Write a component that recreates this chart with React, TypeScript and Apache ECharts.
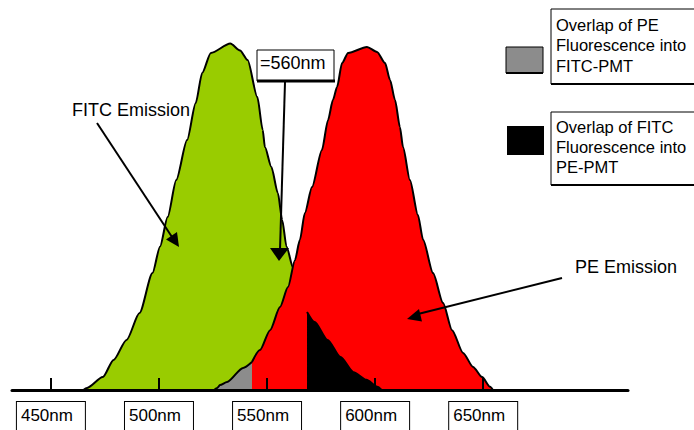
import React, { useEffect, useRef } from "react";
import * as echarts from "echarts";

// FITC emission curve (wavelength nm, relative intensity)
const FITC_NM = [465, 466.7, 474, 479, 485, 491, 497, 500.5, 504, 508, 513, 517, 520, 524, 533, 537.5, 541, 545.5, 548, 549, 552, 555, 557, 559, 562, 568.5, 572, 578, 584, 590, 596, 601, 603];
const FITC_I = [0, 0.6, 3.7, 8.6, 14.3, 22, 33.4, 41, 49.4, 60, 71.4, 82, 90.6, 96.3, 99, 97, 94.3, 83.7, 74.3, 69.4, 63.7, 56.3, 48.6, 41, 35, 22.3, 19.4, 14.3, 9.4, 5.1, 2.9, 0.9, 0];

// PE emission curve
const PE_NM = [525.5, 527, 528.2, 531.5, 538.9, 543, 546.7, 551.4, 556, 559.7, 562.9, 565.2, 567.5, 570.8, 575.4, 578.2, 580.5, 582.4, 584.7, 587.5, 596.2, 600.9, 604.6, 606.9, 609.2, 611.5, 612.9, 616.1, 619.8, 622.2, 626.8, 631.4, 635.6, 640.7, 645.3, 649.5, 653.2, 654.5];
const PE_I = [0, 0.6, 1.4, 2.3, 6.3, 8, 11.4, 17.1, 23.7, 29.4, 37.1, 42.9, 50.6, 58, 68.6, 77.1, 82.9, 86.6, 93.4, 96.3, 98, 96.6, 93.4, 88.6, 82.9, 75.1, 69.4, 60, 50, 42.9, 33.4, 24.9, 17.1, 10.6, 6.6, 3.7, 0.9, 0];

const TICKS = [450, 500, 550, 600, 650];
const PE_CUT = 543; // left edge of PE-PMT window
const FITC_CUT = 568.5; // start of FITC spill into PE-PMT

const LEGEND_GRAY = ["Overlap of PE", "Fluorescence into", "FITC-PMT"];
const LEGEND_BLACK = ["Overlap of FITC", "Fluorescence into", "PE-PMT"];

const FONT = '"Liberation Sans", Arial, sans-serif';

function zip(xs: number[], ys: number[]) {
  return xs.map((x, i) => [x, ys[i]]);
}

function areaSeries(data: number[][], color: string, z: number) {
  return {
    type: "line",
    data,
    z,
    showSymbol: false,
    smooth: 0.25,
    smoothMonotone: "x",
    lineStyle: { color: "#000", width: 2 },
    areaStyle: { color, opacity: 1 },
    silent: true,
  };
}

function textEl(text: string, x: number, y: number, size: number) {
  return {
    type: "text",
    x,
    y,
    z: 100,
    style: {
      text,
      fill: "#000",
      fontSize: size,
      fontFamily: FONT,
      verticalAlign: "middle",
      align: "left",
    },
  };
}

function lineEl(x1: number, y1: number, x2: number, y2: number, w: number) {
  return {
    type: "line",
    z: 100,
    shape: { x1, y1, x2, y2 },
    style: { stroke: "#000", lineWidth: w },
  };
}

export default function App() {
  const ref = useRef<HTMLDivElement>(null);

  useEffect(() => {
    document.body.style.margin = "0";
    if (!ref.current) return;
    const chart = echarts.init(ref.current, undefined, { renderer: "svg" });

    const fitc = zip(FITC_NM, FITC_I);
    const pe = zip(PE_NM, PE_I);

    const graphics: any[] = [];
    // legend boxes
    graphics.push({ type: "rect", z: 100, shape: { x: 551, y: 9, width: 160, height: 75 }, style: { fill: "#fff", stroke: "#000", lineWidth: 1 } });
    graphics.push(lineEl(551, 84, 700, 84, 2));
    graphics.push({ type: "rect", z: 100, shape: { x: 506, y: 47, width: 37, height: 26 }, style: { fill: "#8c8c8c", stroke: "#000", lineWidth: 1 } });
    graphics.push(lineEl(506, 73, 543, 73, 2));
    LEGEND_GRAY.forEach((t, i) => graphics.push(textEl(t, 556, 24.5 + i * 20.5, 16.5)));

    graphics.push({ type: "rect", z: 100, shape: { x: 551, y: 112, width: 160, height: 73 }, style: { fill: "#fff", stroke: "#000", lineWidth: 1 } });
    graphics.push(lineEl(551, 185, 700, 185, 2));
    graphics.push({ type: "rect", z: 100, shape: { x: 507, y: 126, width: 37, height: 29 }, style: { fill: "#000" } });
    LEGEND_BLACK.forEach((t, i) => graphics.push(textEl(t, 556, 126.5 + i * 20, 16.5)));

    // 560nm marker
    graphics.push({ type: "rect", z: 100, shape: { x: 257, y: 50, width: 77, height: 31 }, style: { fill: "#fff", stroke: "#000", lineWidth: 1 } });
    graphics.push(lineEl(257, 81, 335, 81, 3));
    graphics.push(textEl("=560nm", 260, 62.5, 18));
    graphics.push(lineEl(285, 82, 280, 250, 2));
    graphics.push({ type: "polygon", z: 100, shape: { points: [[270, 248], [289, 248], [279, 261]] }, style: { fill: "#000" } });

    // FITC Emission label + arrow
    graphics.push(textEl("FITC Emission", 72, 109.5, 18));
    graphics.push(lineEl(97, 123, 172, 237, 2));
    graphics.push({ type: "polygon", z: 100, shape: { points: [[179, 247], [166, 239.5], [177, 232]] }, style: { fill: "#000" } });

    // PE Emission label + arrow
    graphics.push(textEl("PE Emission", 575, 267, 18));
    graphics.push(lineEl(562, 278, 418, 314, 2));
    graphics.push({ type: "polygon", z: 100, shape: { points: [[407, 319], [422, 321.5], [419, 309]] }, style: { fill: "#000" } });

    chart.setOption({
      animation: false,
      backgroundColor: "#fff",
      grid: { left: 12, right: 66, top: 40, bottom: 40, containLabel: false, outerBoundsMode: "none" },
      xAxis: {
        type: "value",
        min: 432,
        max: 717,
        z: 10,
        splitLine: { show: false },
        axisLine: { show: true, lineStyle: { color: "#000", width: 3 } },
        axisTick: { show: true, inside: true, length: 12, customValues: TICKS, lineStyle: { color: "#000", width: 2 } },
        axisLabel: {
          customValues: TICKS,
          formatter: (v: number) => v + "nm",
          color: "#000",
          fontSize: 17,
          fontFamily: FONT,
          margin: 12,
          borderColor: "#000",
          borderWidth: 1,
          padding: [5, 12, 14, 4],
          backgroundColor: "#fff",
        },
      },
      yAxis: { type: "value", min: 0, max: 100, show: false },
      series: [
        areaSeries(fitc, "#99cc00", 2),
        areaSeries(pe.filter((p) => p[0] >= PE_CUT), "#ff0000", 3),
        areaSeries(pe.filter((p) => p[0] <= PE_CUT), "#8c8c8c", 4),
        areaSeries(fitc.filter((p) => p[0] >= FITC_CUT), "#000000", 5),
      ],
      graphic: graphics,
    });

    return () => chart.dispose();
  }, []);

  return <div ref={ref} style={{ width: 694, height: 430, position: "absolute", left: 0, top: 0 }} />;
}
